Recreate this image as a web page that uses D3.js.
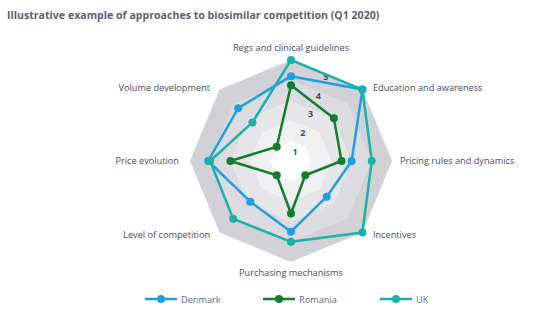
<!DOCTYPE html>
<html><head><meta charset="utf-8">
<script src="https://cdn.jsdelivr.net/npm/d3@7"></script>
<style>body{margin:0;background:#fff}svg{display:block}</style>
</head><body><div id="chart"></div>
<script>
const categories = ["Regs and clinical guidelines","Education and awareness","Pricing rules and dynamics","Incentives","Purchasing mechanisms","Level of competition","Price evolution","Volume development"];
const denmark = [4.2, 5, 3, 2.5, 3.5, 2.85, 4.1, 3.7];
const romania = [3.75, 3, 2.5, 1, 2.6, 1, 3, 1];
const uk = [5, 5, 4, 5, 4, 4.05, 4, 2.7];
const seriesNames = ["Denmark","Romania","UK"];
const tickValues = [1,2,3,4,5];

const W=533,H=326, cx=291, cy=161, R=101;
const colors = {Denmark:"#1ca0e3", Romania:"#117d2f", UK:"#1ab1ab"};
const bandColors = ["#ffffff","#f1f1f3","#e6e6e9","#dcdce0","#d1d1d6"];
const series = [{name:"Denmark",values:denmark},{name:"Romania",values:romania},{name:"UK",values:uk}];

const svg = d3.select("#chart").append("svg").attr("width",W).attr("height",H);
const r = d3.scaleLinear().domain([0,5]).range([0,R]);
const ang = d3.scalePoint().domain(categories).range([0, 2*Math.PI*7/8]);
const pt = (c,v)=>[cx + r(v)*Math.sin(ang(c)), cy - r(v)*Math.cos(ang(c))];

svg.append("text").attr("x",7).attr("y",19).text("Illustrative example of approaches to biosimilar competition (Q1 2020)")
  .attr("font-family","'Open Sans'").attr("font-weight","bold").attr("font-size",10.6).attr("fill","#5a6273");

// bands
for(let k=5;k>=1;k--){
  svg.append("polygon").attr("points", categories.map(c=>pt(c,k).join(",")).join(" "))
    .attr("fill", bandColors[k-1]);
}
// tick labels
tickValues.forEach(k=>{
  const a = Math.PI/8, rr = r(k-0.48);
  svg.append("text").attr("x",cx+rr*Math.sin(a)).attr("y",cy-rr*Math.cos(a))
    .attr("text-anchor","middle").attr("dominant-baseline","central")
    .attr("font-family","'Open Sans'").attr("font-weight","bold").attr("font-size",9).attr("fill","#4a4a55").text(k);
});
// category labels
categories.forEach((c,i)=>{
  const [x,y] = pt(c,5);
  const a = ang(c);
  const s = Math.sin(a), co = Math.cos(a);
  let tx=x, ty=y, anchor="middle";
  if (Math.abs(s)<0.01){ ty = co>0 ? y-9 : y+14; }
  else if (s>0){ anchor="start"; tx = x + (Math.abs(s)>0.99?8:10.5); ty = y - 3*co - (Math.abs(s)>0.99?1:0); }
  else { anchor="end"; tx = x - (Math.abs(s)>0.99?11:9.5); ty = y - 3*co - (Math.abs(s)>0.99?1:0); }
  const t = svg.append("text").attr("x",tx).attr("y",ty).attr("text-anchor",anchor)
    .attr("font-family","'Open Sans'").attr("font-size",9.2).attr("fill","#4b4b68").text(c);
  if (Math.abs(s)<0.01) t.attr("dominant-baseline","auto"); else t.attr("dominant-baseline","central");
});
// series
const line = d3.line();
series.forEach(s=>{
  const pts = categories.map((c,i)=>pt(c,s.values[i]));
  svg.append("path").attr("d", line(pts)+"Z").attr("fill","none")
    .attr("stroke",colors[s.name]).attr("stroke-width",2.5).attr("stroke-linejoin","round");
  svg.selectAll(null).data(pts).enter().append("circle")
    .attr("cx",d=>d[0]).attr("cy",d=>d[1]).attr("r",4).attr("fill",colors[s.name]);
});
// legend
const legX = [145, 263, 380];
seriesNames.forEach((n,i)=>{
  const g = svg.append("g").attr("transform",`translate(${legX[i]},299)`);
  g.append("line").attr("x1",0).attr("x2",32).attr("stroke",colors[n]).attr("stroke-width",2.5);
  g.append("circle").attr("cx",16).attr("r",4).attr("fill",colors[n]);
  g.append("text").attr("x",36).attr("y",0).attr("dominant-baseline","central")
    .attr("font-family","'Open Sans'").attr("font-size",9.2).attr("fill","#5d6a86").text(n);
});
</script></body></html>
